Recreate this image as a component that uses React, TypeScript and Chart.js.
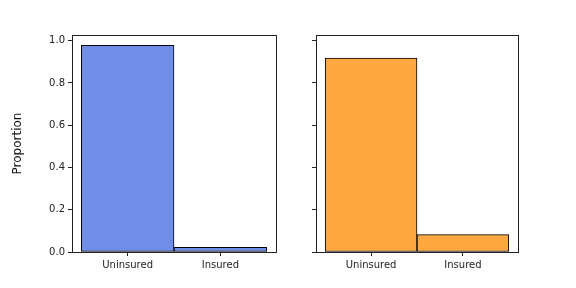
import React, { useEffect, useRef } from "react";
import { Chart, registerables } from "chart.js";

Chart.register(...registerables);

const categories = ["Uninsured", "Insured"];
const leftValues = [0.978, 0.022];
const rightValues = [0.918, 0.082];
const yTicks = [0, 0.2, 0.4, 0.6, 0.8, 1.0];
const yMax = 1.027;
const leftColor = "#708EE8";
const rightColor = "#FFA940";

const boxPlugin = {
  id: "boxPlugin",
  afterDatasetsDraw(chart: any) {
    const { ctx, chartArea } = chart;
    ctx.save();
    ctx.strokeStyle = "#222";
    ctx.lineWidth = 1;
    ctx.strokeRect(
      Math.round(chartArea.left) + 0.5,
      Math.round(chartArea.top) + 0.5,
      Math.round(chartArea.right - chartArea.left),
      Math.round(chartArea.bottom - chartArea.top)
    );
    ctx.restore();
  },
};

function makeConfig(values: number[], color: string, showLabels: boolean, yWidth: number, padRight: number) {
  return {
    type: "bar" as const,
    data: {
      datasets: [
        {
          data: values.map((v, i) => ({ x: i, y: v })),
          backgroundColor: color,
          borderColor: "#000",
          borderWidth: 1,
          borderSkipped: false,
          barThickness: "flex",
          barPercentage: 1,
          categoryPercentage: 1,
        },
      ],
    },
    options: {
      responsive: false,
      animation: false,
      layout: { padding: { left: 0, top: 35, right: padRight, bottom: 0 } },
      plugins: { legend: { display: false }, tooltip: { enabled: false } },
      scales: {
        x: {
          type: "linear",
          min: -0.6,
          max: 1.6,
          offset: false,
          afterBuildTicks: (s: any) => {
            s.ticks = categories.map((_, i) => ({ value: i }));
          },
          afterFit: (s: any) => {
            s.height = 36;
          },
          border: { display: false },
          grid: { offset: false, drawOnChartArea: false, drawTicks: true, tickLength: 4, color: "#222" },
          ticks: {
            autoSkip: false,
            maxRotation: 0,
            padding: 3,
            color: "#222",
            font: { family: "DejaVu Sans", size: 10 },
            callback: (v: any) => categories[Math.round(Number(v))] ?? "",
          },
        },
        y: {
          type: "linear",
          min: 0,
          max: yMax,
          afterBuildTicks: (s: any) => {
            s.ticks = yTicks.map((v) => ({ value: v }));
          },
          afterFit: (s: any) => {
            s.width = yWidth;
          },
          border: { display: false },
          grid: { drawOnChartArea: false, drawTicks: true, tickLength: 4, color: "#222" },
          ticks: {
            padding: 3,
            color: "#222",
            font: { family: "DejaVu Sans", size: 10 },
            callback: (v: any) => (showLabels ? Number(v).toFixed(1) : ""),
          },
          title: showLabels
            ? {
                display: true,
                text: "Proportion",
                color: "#111",
                font: { family: "DejaVu Sans", size: 12 },
                padding: { top: 11, bottom: 0 },
              }
            : { display: false },
        },
      },
    },
    plugins: [boxPlugin],
  };
}

function Panel(props: { values: number[]; color: string; showLabels: boolean; left: number; width: number; yWidth: number; padRight: number }) {
  const ref = useRef<HTMLCanvasElement>(null);
  useEffect(() => {
    const chart = new Chart(ref.current as HTMLCanvasElement, makeConfig(props.values, props.color, props.showLabels, props.yWidth, props.padRight) as any);
    return () => chart.destroy();
  }, []);
  return (
    <canvas
      ref={ref}
      width={props.width}
      height={288}
      style={{ position: "absolute", left: props.left, top: 0, width: props.width, height: 288 }}
    />
  );
}

export default function App() {
  return (
    <div style={{ position: "fixed", left: 0, top: 0, width: 576, height: 288, background: "#fff" }}>
      <Panel values={leftValues} color={leftColor} showLabels={true} left={0} width={290} yWidth={72} padRight={14} />
      <Panel values={rightValues} color={rightColor} showLabels={false} left={290} width={286} yWidth={26} padRight={58} />
    </div>
  );
}
